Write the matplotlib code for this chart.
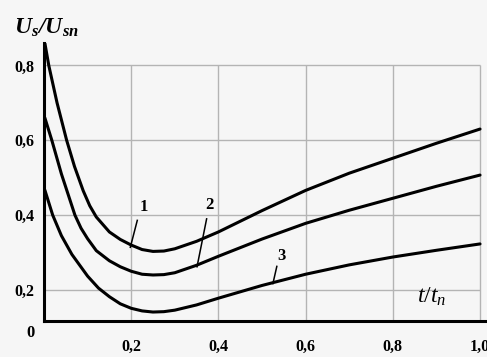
import matplotlib
matplotlib.use("Agg")
import matplotlib.pyplot as plt

plt.rcParams['mathtext.fontset'] = 'custom'
plt.rcParams['mathtext.it'] = 'Liberation Serif:italic'
plt.rcParams['mathtext.bf'] = 'Liberation Serif:bold:italic'
plt.rcParams['mathtext.rm'] = 'Liberation Serif'

# data
x1 = [0.002, 0.011, 0.03, 0.052, 0.07, 0.09, 0.105, 0.12, 0.15, 0.175, 0.2, 0.225, 0.25, 0.275, 0.3, 0.35, 0.4, 0.5, 0.6, 0.7, 0.8, 0.9, 1.0]
y1 = [0.86, 0.80, 0.70, 0.60, 0.53, 0.465, 0.425, 0.395, 0.355, 0.335, 0.32, 0.308, 0.303, 0.304, 0.31, 0.33, 0.355, 0.412, 0.466, 0.512, 0.552, 0.592, 0.63]
x2 = [0.002, 0.018, 0.04, 0.071, 0.085, 0.1, 0.12, 0.15, 0.175, 0.2, 0.225, 0.25, 0.275, 0.3, 0.35, 0.4, 0.5, 0.6, 0.7, 0.8, 0.9, 1.0]
y2 = [0.66, 0.60, 0.51, 0.40, 0.365, 0.337, 0.305, 0.278, 0.262, 0.25, 0.242, 0.24, 0.241, 0.246, 0.266, 0.29, 0.336, 0.378, 0.413, 0.445, 0.477, 0.507]
x3 = [0.002, 0.02, 0.04, 0.064, 0.1, 0.125, 0.15, 0.175, 0.2, 0.225, 0.25, 0.275, 0.3, 0.35, 0.4, 0.5, 0.6, 0.7, 0.8, 0.9, 1.0]
y3 = [0.467, 0.40, 0.345, 0.295, 0.237, 0.205, 0.182, 0.163, 0.151, 0.144, 0.141, 0.142, 0.146, 0.16, 0.178, 0.212, 0.242, 0.267, 0.288, 0.306, 0.323]

xticks = [0.2, 0.4, 0.6, 0.8, 1.0]
xtick_labels = ['0,2', '0,4', '0,6', '0,8', '1,0']
yticks = [0.2, 0.4, 0.6, 0.8]
ytick_labels = ['0,2', '0,4', '0,6', '0,8']

curve_labels = ['1', '2', '3']
label_pos = [(0.228, 0.422), (0.379, 0.428), (0.545, 0.292)]
leader_from = [(0.214, 0.386), (0.373, 0.39), (0.534, 0.263)]
leader_to = [(0.198, 0.314), (0.351, 0.262), (0.525, 0.217)]

fig = plt.figure(figsize=(4.87, 3.57), dpi=100)
fig.patch.set_facecolor('#f6f6f6')
ax = fig.add_axes([0.0903, 0.1008, 0.9097, 0.7788])
ax.set_facecolor('#f6f6f6')
ax.set_xlim(0, 1.016)
ax.set_ylim(0.117, 0.86)

# grid (bounded to the box up to 0.8 / 1.0)
ax.hlines(yticks, 0, 1.0, colors='#b4b4b4', lw=1.0, zorder=1)
ax.vlines(xticks, 0.117, 0.8, colors='#b4b4b4', lw=1.0, zorder=1)

for xs, ys in [(x1, y1), (x2, y2), (x3, y3)]:
    ax.plot(xs, ys, color='black', lw=2.2, solid_joinstyle='round',
            solid_capstyle='round', zorder=3)

for lab, p, a, b in zip(curve_labels, label_pos, leader_from, leader_to):
    ax.text(p[0], p[1], lab, fontsize=12, fontweight='bold',
            family='Liberation Serif', ha='center', va='center')
    ax.plot([a[0], b[0]], [a[1], b[1]], color='black', lw=1.1, zorder=3)

for s in ['top', 'right']:
    ax.spines[s].set_visible(False)
for s in ['left', 'bottom']:
    ax.spines[s].set_linewidth(2.2)

ax.set_xticks(xticks)
ax.set_xticklabels(xtick_labels)
ax.set_yticks(yticks)
ax.set_yticklabels(ytick_labels)
ax.tick_params(axis='both', length=2, width=2, direction='inout')
ax.tick_params(axis='x', pad=12)
ax.tick_params(axis='y', pad=6)
for t in ax.get_xticklabels() + ax.get_yticklabels():
    t.set_fontfamily('Liberation Serif')
    t.set_fontweight('bold')
    t.set_fontsize(11.5)

ax.text(-0.03, 0.085, '0', transform=ax.transData, fontsize=12,
        fontweight='bold', family='Liberation Serif', ha='center', va='center',
        clip_on=False)

fig.text(0.028, 0.925, r'$\mathbf{U_s/U_{sn}}$', fontsize=17, ha='left', va='center')
ax.text(0.89, 0.185, r'$t/t_n$', fontsize=17, ha='center', va='center')

fig.savefig('out.png', dpi=100, facecolor=fig.get_facecolor())
